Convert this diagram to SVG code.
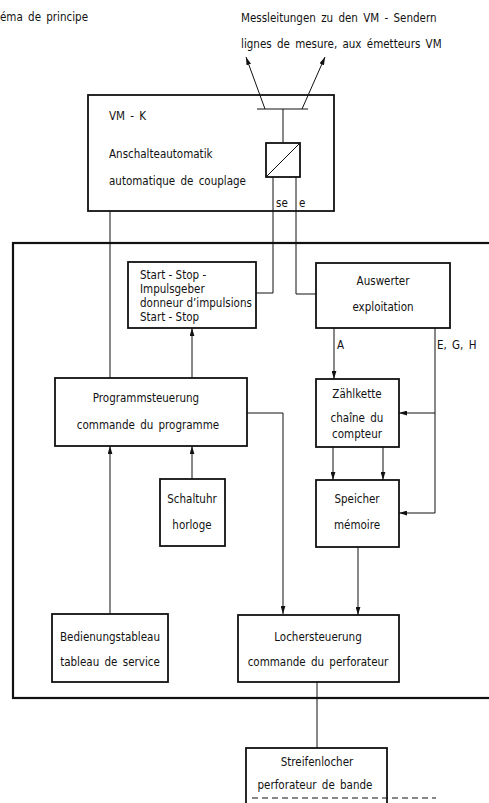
<svg xmlns="http://www.w3.org/2000/svg" width="489" height="803" viewBox="0 0 489 803">
<style>
text{font-family:"DejaVu Sans Condensed","DejaVu Sans",sans-serif;font-size:11.5px;fill:#111;word-spacing:2px}
.c{text-anchor:middle}
.tight text{word-spacing:0}
.box{fill:none;stroke:#111;stroke-width:1.8}
.ln{fill:none;stroke:#111;stroke-width:1}
.frame{fill:none;stroke:#111;stroke-width:2.2}
</style>
<defs>
<marker id="ah" viewBox="0 0 10 6" refX="10" refY="3" markerWidth="8" markerHeight="5" markerUnits="userSpaceOnUse" orient="auto">
<path d="M0,0 L10,3 L0,6 Z" fill="#111"/>
</marker>
</defs>
<rect width="489" height="803" fill="#fff"/>
<text x="0" y="21">éma de principe</text>
<text x="241" y="22">Messleitungen zu den VM - Sendern</text>
<text x="241" y="48">lignes de mesure, aux émetteurs VM</text>

<rect class="frame" x="13" y="243" width="490" height="455"/>

<g id="connectors">
<path class="ln" d="M265,109 L246,57" marker-end="url(#ah)"/>
<path class="ln" d="M302,109 L325,57" marker-end="url(#ah)"/>
<path class="ln" d="M257,109 H308 M283,109 V143"/>
<path class="ln" d="M273,177 V293 H256"/>
<path class="ln" d="M296,177 V294 H316"/>
<path class="ln" d="M110,211 V378"/>
<path class="ln" d="M192,378 V328" marker-end="url(#ah)"/>
<path class="ln" d="M334,328 V379" marker-end="url(#ah)"/>
<path class="ln" d="M435,328 V513 H399" marker-end="url(#ah)"/>
<path class="ln" d="M435,413 H399" marker-end="url(#ah)"/>
<path class="ln" d="M333,447 V480" marker-end="url(#ah)"/>
<path class="ln" d="M383,447 V480" marker-end="url(#ah)"/>
<path class="ln" d="M358,547 V615" marker-end="url(#ah)"/>
<path class="ln" d="M247,413 H283 V614" marker-end="url(#ah)"/>
<path class="ln" d="M110,614 V446" marker-end="url(#ah)"/>
<path class="ln" d="M192,479 V446" marker-end="url(#ah)"/>
<path class="ln" d="M317,682 V748"/>
<text x="276" y="207">se</text>
<text x="299" y="207">e</text>
<text x="337" y="349">A</text>
<text x="437" y="349">E, G, H</text>
</g>

<g id="vmk">
<rect class="box" x="88" y="95" width="246" height="116"/>
<text x="109" y="120">VM - K</text>
<text x="109" y="158">Anschalteautomatik</text>
<text x="109" y="185">automatique de couplage</text>
<rect class="box" x="266" y="143" width="34" height="34"/>
<path class="ln" d="M266,177 L300,143"/>
</g>

<g id="startstop" class="tight">
<rect class="box" x="128" y="262" width="128" height="66"/>
<text x="140" y="279">Start - Stop -</text>
<text x="140" y="293">Impulsgeber</text>
<text x="140" y="307">donneur d’impulsions</text>
<text x="140" y="321">Start - Stop</text>
</g>

<g id="auswerter">
<rect class="box" x="316" y="263" width="134" height="65"/>
<text class="c" x="383" y="285">Auswerter</text>
<text class="c" x="383" y="311">exploitation</text>
</g>

<g id="programm">
<rect class="box" x="55" y="378" width="192" height="68"/>
<text class="c" x="146" y="402">Programmsteuerung</text>
<text class="c" x="148" y="429">commande du programme</text>
</g>

<g id="zaehl">
<rect class="box" x="316" y="379" width="83" height="68"/>
<text class="c" x="357" y="398">Zählkette</text>
<text class="c" x="357" y="422">chaîne du</text>
<text class="c" x="357" y="438">compteur</text>
</g>

<g id="schaltuhr">
<rect class="box" x="160" y="479" width="65" height="67"/>
<text class="c" x="192" y="503">Schaltuhr</text>
<text class="c" x="192" y="529">horloge</text>
</g>

<g id="speicher">
<rect class="box" x="316" y="480" width="83" height="67"/>
<text class="c" x="357" y="503">Speicher</text>
<text class="c" x="357" y="529">mémoire</text>
</g>

<g id="bedienung">
<rect class="box" x="52" y="614" width="116" height="68"/>
<text class="c" x="110" y="641">Bedienungstableau</text>
<text class="c" x="110" y="666">tableau de service</text>
</g>

<g id="locher">
<rect class="box" x="238" y="615" width="161" height="67"/>
<text class="c" x="318" y="641">Lochersteuerung</text>
<text class="c" x="318" y="666">commande du perforateur</text>
</g>

<g id="streifen">
<rect class="box" x="246" y="748" width="141" height="70"/>
<text class="c" x="317" y="766">Streifenlocher</text>
<text class="c" x="315" y="789">perforateur de bande</text>
<path class="ln" d="M252,798 H436" stroke-dasharray="6,4"/>
</g>
</svg>
